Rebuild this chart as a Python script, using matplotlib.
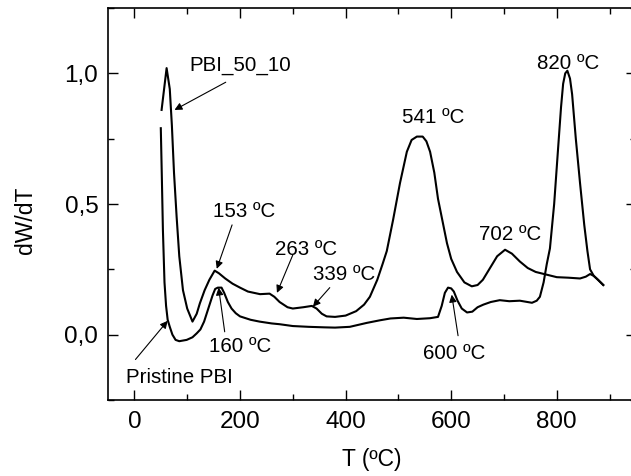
import matplotlib
matplotlib.use('Agg')
import matplotlib.pyplot as plt
from matplotlib.ticker import MultipleLocator, FuncFormatter

plt.rcParams['font.family'] = ['Liberation Sans', 'DejaVu Sans']

# PBI_50_10 curve (T in ºC, dW/dT)
t_pbi = [51.5, 61, 67, 71, 75, 80, 85, 92, 100, 110, 118, 124, 133, 142, 152, 160,
         172, 186, 200, 215, 238, 256, 265, 275, 290, 300, 320, 336, 345, 355, 364,
         380, 400, 420, 435, 446, 460, 470, 478, 490, 503, 516, 525, 535, 546, 553,
         560, 568, 575, 584, 592, 600, 611, 625, 639, 650, 660, 672, 687, 702, 715,
         730, 745, 760, 780, 800, 822, 844, 855, 863, 870, 878, 888]
w_pbi = [0.86, 1.02, 0.94, 0.80, 0.62, 0.45, 0.30, 0.17, 0.10, 0.05, 0.08, 0.12, 0.17,
         0.21, 0.245, 0.235, 0.215, 0.195, 0.18, 0.165, 0.155, 0.157, 0.145, 0.125,
         0.105, 0.10, 0.105, 0.11, 0.10, 0.08, 0.07, 0.068, 0.073, 0.09, 0.115, 0.145,
         0.21, 0.27, 0.32, 0.44, 0.58, 0.70, 0.745, 0.758, 0.758, 0.74, 0.70, 0.62,
         0.52, 0.43, 0.35, 0.29, 0.24, 0.20, 0.185, 0.19, 0.21, 0.25, 0.30, 0.325,
         0.31, 0.28, 0.255, 0.24, 0.23, 0.22, 0.218, 0.215, 0.222, 0.232, 0.225,
         0.21, 0.19]

# Pristine PBI curve
t_pri = [50, 52, 54, 57, 60, 63, 67, 72, 78, 85, 99, 110, 118, 125, 132, 140, 148,
         153, 158, 165, 170, 177, 184, 192, 200, 220, 237, 260, 275, 300, 330, 360,
         380, 408, 440, 465, 485, 510, 535, 560, 575, 582, 588, 594, 600, 605, 612,
         620, 630, 640, 650, 661, 675, 692, 710, 730, 753, 762, 768, 775, 781, 787,
         795, 802, 808, 812, 816, 820, 825, 829, 836, 844, 852, 858, 863, 870, 878, 888]
w_pri = [0.79, 0.60, 0.40, 0.20, 0.11, 0.057, 0.03, 0.0, -0.02, -0.025, -0.02, -0.01,
         0.005, 0.02, 0.05, 0.10, 0.15, 0.175, 0.18, 0.18, 0.16, 0.125, 0.10, 0.082,
         0.07, 0.057, 0.05, 0.043, 0.04, 0.033, 0.03, 0.028, 0.027, 0.03, 0.045,
         0.055, 0.062, 0.065, 0.06, 0.063, 0.068, 0.11, 0.16, 0.18, 0.177, 0.165,
         0.13, 0.10, 0.085, 0.088, 0.105, 0.115, 0.125, 0.132, 0.128, 0.13, 0.122,
         0.13, 0.145, 0.20, 0.27, 0.33, 0.50, 0.70, 0.87, 0.96, 1.0, 1.01, 0.98,
         0.92, 0.75, 0.58, 0.42, 0.32, 0.25, 0.225, 0.21, 0.19]

# annotations: label, text position, arrow start, arrow tip (None = no arrow)
labels = ['PBI_50_10', 'Pristine PBI', '153 ºC', '263 ºC', '339 ºC', '160 ºC',
          '541 ºC', '702 ºC', '820 ºC', '600 ºC']
text_pos = [(105, 1.03), (86, -0.164), (207, 0.47), (325, 0.324), (398, 0.229),
            (201, -0.046), (566, 0.832), (711, 0.385), (822, 1.038), (605, -0.072)]
arrow_from = [(173, 0.966), (2, -0.095), (185, 0.42), (300, 0.305), (370, 0.18),
              (171, 0.011), None, None, None, (613, -0.004)]
arrow_to = [(76, 0.86), (63, 0.053), (156, 0.252), (270, 0.16), (338, 0.107),
            (159.5, 0.18), None, None, None, (601, 0.153)]

fig = plt.figure(figsize=(6.31, 4.76), dpi=100)
ax = fig.add_axes([108 / 631, 76 / 476, 528 / 631, 392 / 476])

ax.plot(t_pbi, w_pbi, color='black', lw=1.5)
ax.plot(t_pri, w_pri, color='black', lw=1.5)

for i, lab in enumerate(labels):
    ha = 'left' if lab == 'PBI_50_10' else 'center'
    ax.text(text_pos[i][0], text_pos[i][1], lab, fontsize=14.8, ha=ha, va='center')
    if arrow_from[i] is not None:
        ax.annotate('', xy=arrow_to[i], xytext=arrow_from[i],
                    arrowprops=dict(arrowstyle='-|>', color='black', lw=0.8,
                                    mutation_scale=11, shrinkA=0, shrinkB=0))

ax.set_xlim(-50, 950)
ax.set_ylim(-0.25, 1.25)
ax.xaxis.set_major_locator(MultipleLocator(200))
ax.xaxis.set_minor_locator(MultipleLocator(100))
ax.yaxis.set_major_locator(MultipleLocator(0.5))
ax.yaxis.set_minor_locator(MultipleLocator(0.25))
ax.yaxis.set_major_formatter(FuncFormatter(lambda v, p: f'{v:.1f}'.replace('.', ',')))
ax.tick_params(which='both', direction='in', top=True, right=True, labelsize=17.5, width=1)
ax.tick_params(axis='x', which='major', pad=8)
ax.tick_params(axis='y', which='major', pad=7)
ax.tick_params(which='major', length=7)
ax.tick_params(which='minor', length=4)
for s in ax.spines.values():
    s.set_linewidth(1.2)

ax.set_xlabel('T (ºC)', fontsize=16.5)
ax.set_ylabel('dW/dT', fontsize=16.5)
ax.xaxis.set_label_coords(0.4994, -0.122)
ax.yaxis.set_label_coords(-0.135, 0.459)

fig.savefig('out.png', dpi=100)
